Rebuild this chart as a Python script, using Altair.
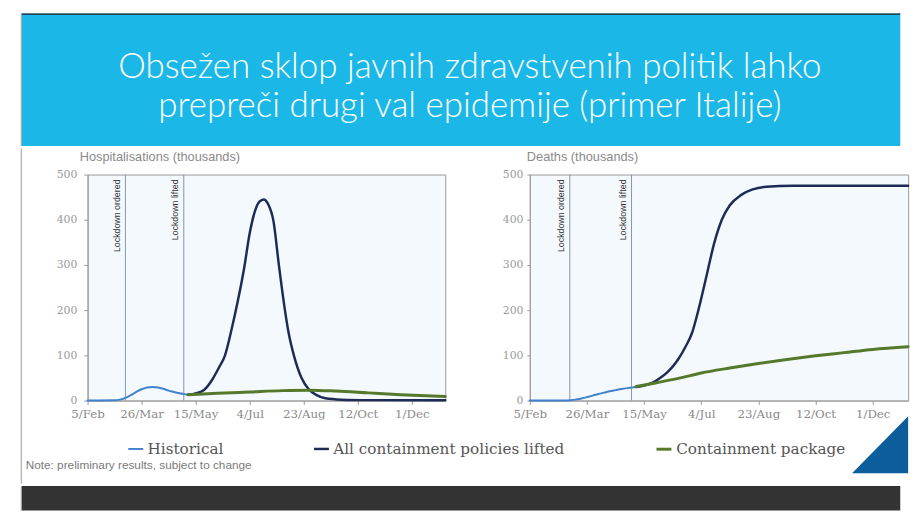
import altair as alt
import pandas as pd

TITLE_LINES = ["Obsežen sklop javnih zdravstvenih politik lahko",
               "prepreči drugi val epidemije (primer Italije)"]
LEFT_TITLE = "Hospitalisations (thousands)"
RIGHT_TITLE = "Deaths (thousands)"
NOTE = "Note: preliminary results, subject to change"

SERIES = ["Historical", "All containment policies lifted", "Containment package"]
SERIES_COLORS = ["#4282cc", "#1d2b56", "#55792a"]
SERIES_WIDTHS = [2, 3, 2.5]

TICK_DATES = ["2020-02-05", "2020-03-26", "2020-05-15", "2020-07-04",
              "2020-08-23", "2020-10-12", "2020-12-01"]
X_DOMAIN = ["2020-02-05", "2021-01-01"]
Y_TICKS = [0, 100, 200, 300, 400, 500]

EVENT_DATES = ["2020-03-11", "2020-05-04"]
EVENT_LABELS = ["Lockdown ordered", "Lockdown lifted"]

# Hospitalisations (thousands)
HOSP_HIST_DATES = ["2020-02-05", "2020-02-29", "2020-03-06", "2020-03-11", "2020-03-16",
                   "2020-03-21", "2020-03-26", "2020-03-31", "2020-04-05", "2020-04-10",
                   "2020-04-15", "2020-04-20", "2020-04-25", "2020-04-30", "2020-05-05",
                   "2020-05-08"]
HOSP_HIST = [0, 0.5, 2, 6, 12, 19, 25, 29, 30, 29, 26, 22, 19, 16, 14, 13]

HOSP_LIFTED_DATES = ["2020-05-08", "2020-05-15", "2020-05-23", "2020-05-30", "2020-06-06",
                     "2020-06-11", "2020-06-17", "2020-06-23", "2020-06-29", "2020-07-04",
                     "2020-07-09", "2020-07-13", "2020-07-17", "2020-07-21", "2020-07-26",
                     "2020-07-31", "2020-08-05", "2020-08-09", "2020-08-14", "2020-08-21",
                     "2020-08-28", "2020-09-04", "2020-09-12", "2020-09-27", "2020-10-22",
                     "2021-01-01"]
HOSP_LIFTED = [13, 16, 24, 45, 75, 99, 155, 220, 295, 370, 420, 440, 445, 435, 397,
               300, 210, 150, 99, 50, 24, 12, 5, 2, 1, 0.5]

HOSP_PKG_DATES = ["2020-05-08", "2020-06-04", "2020-07-04", "2020-08-03", "2020-08-28",
                  "2020-09-22", "2020-10-22", "2020-11-21", "2021-01-01"]
HOSP_PKG = [13, 16, 19, 22, 23, 21, 17, 13, 9]

# Deaths (thousands)
DEATH_HIST_DATES = HOSP_HIST_DATES
DEATH_HIST = [0, 0, 0.2, 0.8, 2, 4.5, 7.5, 11, 14.5, 17.5, 20.5, 23, 25.5, 27.5, 29, 30]

DEATH_LIFTED_DATES = ["2020-05-08", "2020-05-15", "2020-05-22", "2020-05-29", "2020-06-04",
                      "2020-06-09", "2020-06-14", "2020-06-20", "2020-06-26", "2020-07-02",
                      "2020-07-09", "2020-07-15", "2020-07-22", "2020-07-29", "2020-08-08",
                      "2020-08-18", "2020-08-30", "2020-09-22", "2021-01-01"]
DEATH_LIFTED = [30, 33, 39, 50, 62, 75, 92, 118, 150, 205, 280, 345, 400, 432, 455,
                467, 473, 475, 475]

DEATH_PKG_DATES = ["2020-05-08", "2020-05-25", "2020-06-14", "2020-07-04", "2020-07-29",
                   "2020-08-23", "2020-09-17", "2020-10-12", "2020-11-06", "2020-12-01",
                   "2021-01-01"]
DEATH_PKG = [31, 39, 49, 61, 72, 82, 91, 99, 106, 113, 119]

# colours of the slide
BANNER_BLUE = "#1bb8e7"
DARK_BAR = "#333333"
TRIANGLE_BLUE = "#0b5d9b"
PLOT_FILL = "#f3f9fd"
FRAME = "#9a9a9a"


def dt(s):
    t = pd.Timestamp(s)
    return alt.DateTime(year=t.year, month=t.month, date=t.day)


def series_frame(parts):
    rows = []
    for name, dates, vals in parts:
        for d, v in zip(dates, vals):
            rows.append({"date": pd.Timestamp(d), "value": v, "series": name})
    return pd.DataFrame(rows)


hosp_df = series_frame([(SERIES[0], HOSP_HIST_DATES, HOSP_HIST),
                        (SERIES[1], HOSP_LIFTED_DATES, HOSP_LIFTED),
                        (SERIES[2], HOSP_PKG_DATES, HOSP_PKG)])
death_df = series_frame([(SERIES[0], DEATH_HIST_DATES, DEATH_HIST),
                         (SERIES[1], DEATH_LIFTED_DATES, DEATH_LIFTED),
                         (SERIES[2], DEATH_PKG_DATES, DEATH_PKG)])
event_df = pd.DataFrame({"date": pd.to_datetime(EVENT_DATES), "label": EVENT_LABELS})
one = pd.DataFrame({"k": [0]})

LEGEND = alt.Legend(orient="none", legendX=40, legendY=434, direction="horizontal",
                    title=None, symbolType="stroke", symbolSize=230, symbolStrokeWidth=2.5,
                    labelFont="DejaVu Serif", labelFontSize=15.5, labelColor="#555555",
                    labelOffset=3, columnPadding=86, labelLimit=500)

PLOT_H = 230
RIGHT_EDGE = 827  # right end of the page, relative to the left plot's origin


def panel(df, title, width, y_extent, tick_size, label_pad, title_dx, extras):
    x_enc = alt.X("date:T", title=None,
                  scale=alt.Scale(domain=[dt(X_DOMAIN[0]), dt(X_DOMAIN[1])]),
                  axis=alt.Axis(values=[dt(d) for d in TICK_DATES], format="%-d/%b",
                                labelFont="DejaVu Serif", labelFontSize=12,
                                labelColor="#8a8a8a", tickColor=FRAME, domainColor=FRAME,
                                tickSize=4, labelPadding=4, labelFlush=False,
                                labelOverlap=False, grid=False))
    y_enc = alt.Y("value:Q", title=None,
                  scale=alt.Scale(domain=[0, 500], nice=False),
                  axis=alt.Axis(values=Y_TICKS, labelFont="DejaVu Serif", labelFontSize=11,
                                labelColor="#9a9a9a", tickColor=FRAME, domainColor=FRAME,
                                tickSize=tick_size, labelPadding=label_pad,
                                minExtent=y_extent, grid=False))

    lines = alt.Chart(df).mark_line(interpolate="monotone", strokeCap="round").encode(
        x=x_enc, y=y_enc,
        color=alt.Color("series:N", scale=alt.Scale(domain=SERIES, range=SERIES_COLORS),
                        legend=LEGEND),
        strokeWidth=alt.StrokeWidth("series:N",
                                    scale=alt.Scale(domain=SERIES, range=SERIES_WIDTHS),
                                    legend=None),
    )
    rules = alt.Chart(event_df).mark_rule(color="#8796a5", strokeWidth=1).encode(
        x=alt.X("date:T", title=None))
    labels = alt.Chart(event_df).mark_text(
        angle=270, align="right", baseline="bottom", dy=-4, fontSize=9,
        font="Liberation Sans", color="#333333").encode(
        x=alt.X("date:T", title=None), y=alt.value(5), text="label:N")
    head = alt.Chart(one).mark_text(
        align="left", baseline="middle", fontSize=13, font="Liberation Sans",
        color="#8a8a8a", text=title).encode(x=alt.value(title_dx), y=alt.value(-18))

    return alt.layer(rules, labels, lines, head, *extras).properties(
        width=width, height=PLOT_H,
        view=alt.ViewBackground(fill=PLOT_FILL, stroke=FRAME, strokeWidth=1))


# left panel: slide border and the note live here too
left_border = alt.Chart(one).mark_rule(color="#9a9a9a", strokeWidth=1).encode(
    x=alt.value(-67.5), y=alt.value(-26.5), y2=alt.value(314.5))
note = alt.Chart(one).mark_text(
    align="left", baseline="middle", fontSize=12, font="Liberation Sans",
    color="#7a7a7a", text=NOTE).encode(x=alt.value(-63), y=alt.value(296))
left = panel(hosp_df, LEFT_TITLE, 364, 80, 4, 7, -8, [left_border, note])

triangle = alt.Chart(one).mark_point(
    shape="M 1 -1.035 L 1 1 L -1 1 Z", filled=True, size=3249, opacity=1,
    color=TRIANGLE_BLUE, strokeWidth=0).encode(x=alt.value(356.5), y=alt.value(275.5))
right = panel(death_df, RIGHT_TITLE, 385, 70, 3, 4, -3, [triangle])

middle = alt.hconcat(left, right, spacing=8)

# banner
banner_layers = [
    alt.Chart(one).mark_rect(color=BANNER_BLUE).encode(
        x=alt.value(-67), x2=alt.value(RIGHT_EDGE), y=alt.value(0), y2=alt.value(135)),
    alt.Chart(one).mark_rule(color="#222222", strokeWidth=1.5).encode(
        x=alt.value(-67), x2=alt.value(RIGHT_EDGE), y=alt.value(0.75)),
    alt.Chart(one).mark_rule(color="#9a9a9a", strokeWidth=1).encode(
        x=alt.value(-67.5), y=alt.value(0), y2=alt.value(135)),
]
for i, line in enumerate(TITLE_LINES):
    banner_layers.append(
        alt.Chart(one).mark_text(text=line, font="Lato", fontWeight=300, fontSize=35.5,
                                 color="white", align="center", baseline="middle").encode(
            x=alt.value(389), y=alt.value(55 + 39 * i)))
banner = alt.layer(*banner_layers).properties(
    width=RIGHT_EDGE, height=135,
    view=alt.ViewBackground(fill="transparent", stroke="transparent"))

# dark footer bar
footer = alt.layer(
    alt.Chart(one).mark_rect(color=DARK_BAR).encode(
        x=alt.value(-67), x2=alt.value(RIGHT_EDGE), y=alt.value(0), y2=alt.value(25)),
    alt.Chart(one).mark_rule(color="#9a9a9a", strokeWidth=1).encode(
        x=alt.value(-67.5), y=alt.value(0), y2=alt.value(25)),
).properties(width=RIGHT_EDGE, height=25,
             view=alt.ViewBackground(fill="transparent", stroke="transparent"))

chart = alt.vconcat(banner, middle, footer, spacing=0).properties(
    padding=0, background="white")

chart.save("out.html", embed_options={"renderer": "svg", "actions": False})
